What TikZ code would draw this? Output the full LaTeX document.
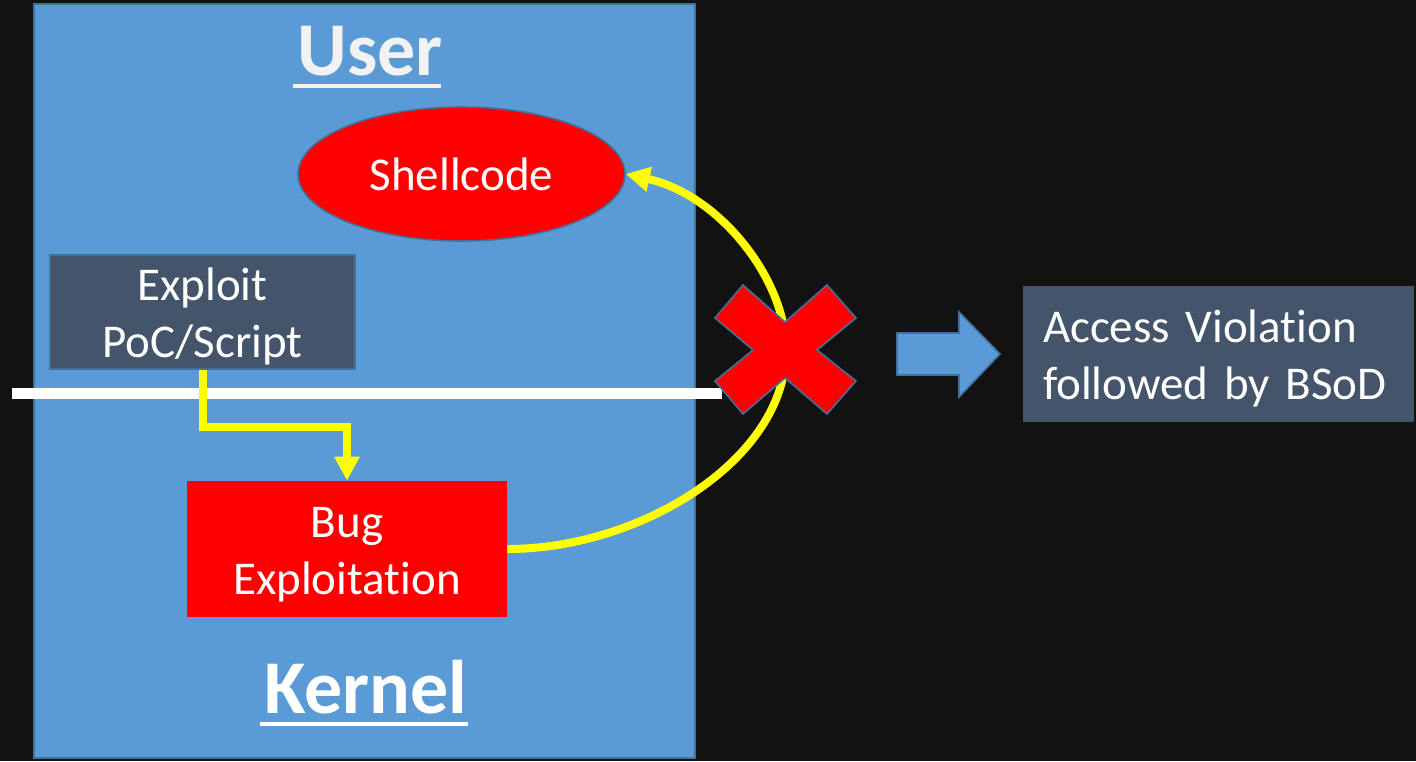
\documentclass[tikz,border=0pt]{standalone}
\usepackage{fontspec}
\setmainfont{Carlito}[Ligatures={NoCommon}]
\usetikzlibrary{shapes.geometric,arrows.meta}

\definecolor{bgdark}{HTML}{121212}
\definecolor{panelblue}{HTML}{5B9BD5}
\definecolor{edgeblue}{HTML}{41719C}
\definecolor{slate}{HTML}{44546A}
\definecolor{hotred}{HTML}{FF0000}
\definecolor{flowyellow}{HTML}{FFFF00}
\definecolor{offwhite}{HTML}{F2F2F2}

% fixed first-line height and last-line depth so two-line labels sit alike
\newcommand\firstline{\rule{0pt}{22.5pt}}
\newcommand\lastline{\rule[-6pt]{0pt}{6pt}}
% keep "t" and "i" as separate glyphs
\newcommand\sepglyph{\kern0pt }

\tikzset{
  bodytext/.style={font=\fontsize{23.5}{28.5}\selectfont, text=white, align=center},
  titletext/.style={font=\bfseries\fontsize{38}{44}\selectfont, inner sep=0pt},
  underbar/.style={line width=2pt, line cap=butt},
  flow/.style={draw=flowyellow, line width=4pt, -{Triangle[length=12pt,width=12pt]}},
  outline/.style={draw=edgeblue, line width=0.8pt},
}

\begin{document}
\begin{tikzpicture}[x=0.5pt,y=-0.5pt]
  % canvas
  \fill[bgdark] (0,0) rectangle (1416,761);
  \useasboundingbox (0,0) rectangle (1416,761);

  % address-space panel
  \path[fill=panelblue, outline] (34,4) rectangle (695,758);

  % user / kernel boundary
  \draw[white, line width=5.5pt] (12,393.5) -- (722,393.5);

  % titles
  \node[titletext, text=offwhite, anchor=base] (user) at (370,75) {User};
  \draw[underbar, offwhite] ([xshift=-2pt,yshift=-5.5pt]user.base west)
                         -- ([xshift=-1pt,yshift=-5.5pt]user.base east);
  \node[titletext, text=white, anchor=base] (kernel) at (366,713) {Kernel};
  \draw[underbar, white] ([xshift=-2pt,yshift=-5.5pt]kernel.base west)
                      -- ([xshift=0pt,yshift=-5.5pt]kernel.base east);

  % boxes
  \node[ellipse, fill=hotred, outline, minimum width=163.5pt, minimum height=67pt,
        inner sep=0pt, bodytext] (shell) at (461.5,174) {Shellcode};
  \node[rectangle, fill=slate, outline, minimum width=152.5pt, minimum height=55pt,
        inner sep=0pt, bodytext] (exploit) at (202.5,312)
        {\firstline Exploit\\PoC/Script\lastline};
  \node[rectangle, fill=hotred, minimum width=160pt, minimum height=68pt,
        inner sep=0pt, bodytext] (bug) at (347,549)
        {\firstline Bug\\Exploitat\sepglyph ion\lastline};
  \node[rectangle, fill=slate, minimum width=195.5pt, minimum height=68pt,
        text width=175.5pt, inner xsep=10pt, inner ysep=0pt, bodytext, align=left]
        (av) at (1218.5,354) {\firstline Access Violat\sepglyph ion\\followed by BSoD\lastline};

  % control flow
  \coordinate (cross) at (786,350);
  \draw[flow] (exploit.south) -- ++(0,57) -| (bug.north);
  \draw[flow] (bug.east) .. controls (640,549) and (786,460) .. (cross)
              .. controls (786,280) and (720,195) .. (shell.east);

  % blocked transfer mark
  \path[fill=hotred, outline]
    (715,318) -- (743,285) -- (785,322) -- (827,285) -- (856,318) -- (817,350)
    -- (856,381) -- (827,414) -- (785,378) -- (743,414) -- (715,381) -- (753,350)
    -- cycle;

  % result arrow
  \path[fill=panelblue, outline]
    (897,333) -- (959,333) -- (959,312) -- (1000,354) -- (959,397) -- (959,375)
    -- (897,375) -- cycle;
\end{tikzpicture}
\end{document}
